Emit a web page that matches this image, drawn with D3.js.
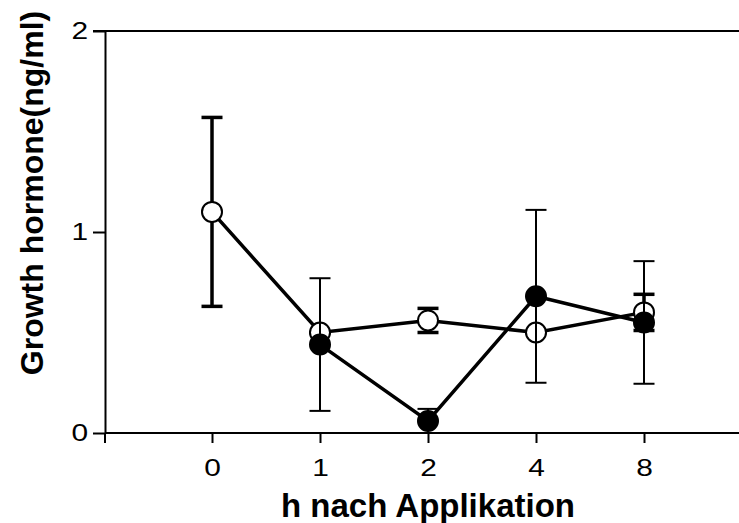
<!DOCTYPE html>
<html lang="en">
<head>
    <meta charset="UTF-8">
    <title>Growth hormone</title>
    <script src="https://d3js.org/d3.v7.min.js"></script>
    <style>
        body { margin: 0; background: #fff; }
        svg { font-family: "Liberation Sans", Arial, sans-serif; }
        .axis text { fill: #000; font-size: 23px; }
        .axis line, .axis path { stroke: #000; stroke-width: 2px; }
        .axis-title { font-weight: bold; }
    </style>
</head>
<body>
    <svg id="chart" width="739" height="523"></svg>
    <script>
        // data
        var hours = ["0", "1", "2", "4", "8"];
        var yTicks = [0, 1, 2];
        var openMean = [1.10, 0.50, 0.56, 0.50, 0.60];
        var openErr = [0.47, 0, 0.06, 0, 0.09];
        var filledMean = [null, 0.44, 0.06, 0.68, 0.55];
        var filledErr = [null, 0.33, 0.06, 0.43, 0.305];

        var svg = d3.select("#chart");
        var plotLeft = 105, plotRight = 739, plotTop = 31, plotBottom = 433;
        var stretch = 1.3; // tick labels look wider than plain Arial

        // Scales
        var x = d3.scalePoint().domain(hours).range([212, 644]);
        var y = d3.scaleLinear().domain([0, 2]).range([plotBottom, plotTop]);

        // top border
        svg.append("line")
            .attr("x1", plotLeft - 12).attr("x2", plotRight)
            .attr("y1", plotTop).attr("y2", plotTop)
            .attr("stroke", "#000").attr("stroke-width", 2);

        // x-axis
        var xAxis = svg.append("g")
            .attr("class", "axis")
            .attr("transform", "translate(0," + plotBottom + ")")
            .call(d3.axisBottom(x).tickSize(10).tickPadding(17));
        xAxis.attr("font-family", null);
        xAxis.selectAll(".tick text").attr("transform", "scale(" + stretch + ",1)");
        xAxis.select(".domain").remove();
        xAxis.append("line")
            .attr("x1", plotLeft).attr("x2", plotRight)
            .attr("stroke", "#000").attr("stroke-width", 2);
        xAxis.append("line")
            .attr("x1", plotLeft).attr("x2", plotLeft)
            .attr("y1", 0).attr("y2", 10)
            .attr("stroke", "#000").attr("stroke-width", 2);

        // y-axis
        var yAxis = svg.append("g")
            .attr("class", "axis")
            .attr("transform", "translate(" + plotLeft + ",0)")
            .call(d3.axisLeft(y).tickValues(yTicks).tickFormat(d3.format("d"))
                .tickSize(12).tickSizeOuter(0));
        yAxis.attr("font-family", null);
        yAxis.selectAll(".tick text")
            .attr("x", -17 / stretch)
            .attr("transform", "scale(" + stretch + ",1)");

        // axis titles
        svg.append("text")
            .attr("class", "axis-title")
            .attr("font-size", 33)
            .attr("x", 428)
            .attr("y", 517)
            .attr("text-anchor", "middle")
            .text("h nach Applikation");

        svg.append("text")
            .attr("class", "axis-title")
            .attr("font-size", 32)
            .attr("transform", "translate(43,193) rotate(-90)")
            .attr("text-anchor", "middle")
            .text("Growth hormone(ng/ml)");

        function drawSeries(mean, err, filled, errWidth) {
            var pts = hours.map((h, i) => ({ h: h, m: mean[i], e: err[i] }))
                .filter(d => d.m !== null);
            var g = svg.append("g");

            // error bars
            var eb = g.selectAll(".eb").data(pts).enter().append("g")
                .attr("stroke", "#000").attr("stroke-width", errWidth);
            eb.append("line")
                .attr("x1", d => x(d.h)).attr("x2", d => x(d.h))
                .attr("y1", d => y(d.m + d.e)).attr("y2", d => y(d.m - d.e));
            eb.append("line")
                .attr("x1", d => x(d.h) - 10.5).attr("x2", d => x(d.h) + 10.5)
                .attr("y1", d => y(d.m + d.e)).attr("y2", d => y(d.m + d.e));
            eb.append("line")
                .attr("x1", d => x(d.h) - 10.5).attr("x2", d => x(d.h) + 10.5)
                .attr("y1", d => y(d.m - d.e)).attr("y2", d => y(d.m - d.e));

            // connecting line
            g.append("path")
                .datum(pts)
                .attr("fill", "none")
                .attr("stroke", "#000")
                .attr("stroke-width", 3.5)
                .attr("d", d3.line().x(d => x(d.h)).y(d => y(d.m)));

            // markers
            g.selectAll("circle").data(pts).enter().append("circle")
                .attr("cx", d => x(d.h))
                .attr("cy", d => y(d.m))
                .attr("r", 10)
                .attr("fill", filled ? "#000" : "#fff")
                .attr("stroke", "#000")
                .attr("stroke-width", 2);
        }

        drawSeries(openMean, openErr, false, 3.5);
        drawSeries(filledMean, filledErr, true, 2);
    </script>
</body>
</html>
